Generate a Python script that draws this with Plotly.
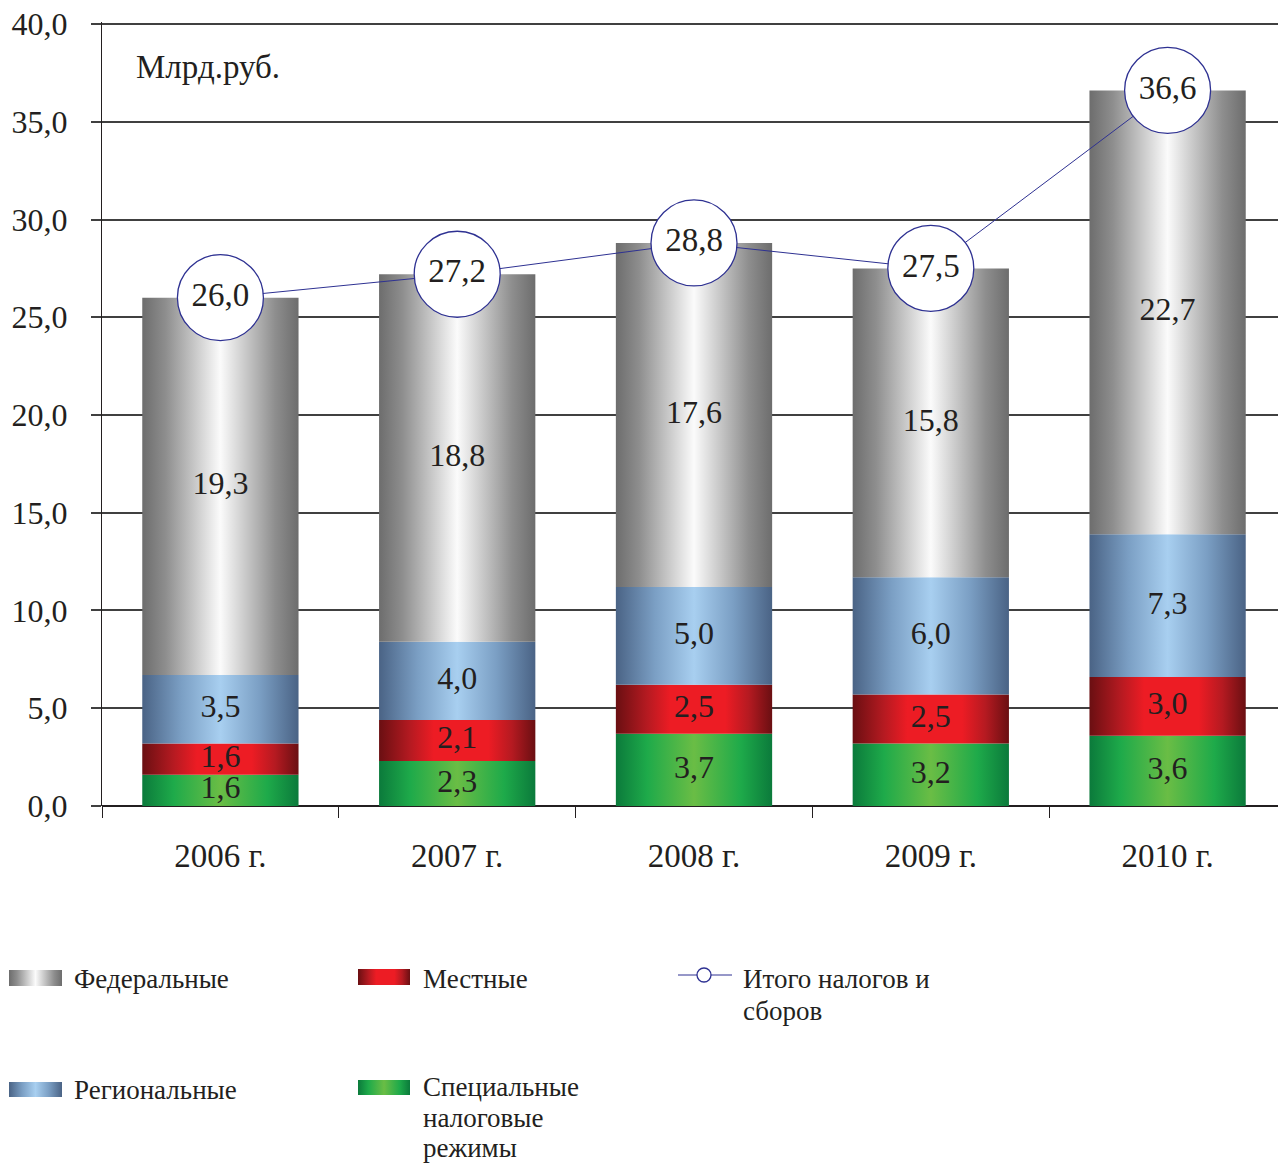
import plotly.graph_objects as go

# ---------------- data ----------------
years = ["2006 г.", "2007 г.", "2008 г.", "2009 г.", "2010 г."]
special = [1.6, 2.3, 3.7, 3.2, 3.6]      # Специальные налоговые режимы
local = [1.6, 2.1, 2.5, 2.5, 3.0]        # Местные
regional = [3.5, 4.0, 5.0, 6.0, 7.3]     # Региональные
federal = [19.3, 18.8, 17.6, 15.8, 22.7] # Федеральные
totals = [26.0, 27.2, 28.8, 27.5, 36.6]  # Итого налогов и сборов

series_names = ["Специальные налоговые режимы", "Местные", "Региональные", "Федеральные"]
series_values = [special, local, regional, federal]

# ---------------- styles ----------------
OFF = 8                    # page body margin of the browser
W, H = 1286 - OFF, 1165 - OFF
FONT = "Liberation Serif, Times New Roman, serif"
TXT = "#231f20"
NAVY = "#2e3192"
GRID = "#404040"
scales = {
    "Федеральные": [[0, "#6d6d6d"], [0.15, "#8e8e8e"], [0.5, "#fbfbfb"], [0.85, "#8e8e8e"], [1, "#6d6d6d"]],
    "Региональные": [[0, "#4a6385"], [0.25, "#7b9fc4"], [0.5, "#a8cff0"], [0.75, "#7b9fc4"], [1, "#4a6385"]],
    "Местные": [[0, "#6a0f12"], [0.2, "#b51a21"], [0.35, "#ed1c24"], [0.7, "#ed1c24"], [0.85, "#b51a21"], [1, "#6a0f12"]],
    "Специальные налоговые режимы": [[0, "#0b7a3b"], [0.2, "#1eaa4a"], [0.5, "#6abd45"], [0.8, "#1eaa4a"], [1, "#0b7a3b"]],
}
HALF = 0.33  # half bar width in category units
YMAX = 40.0
YPAD = 0.1   # tiny headroom so the 40,0 grid line / tick are drawn
PX_PER_UNIT = (806 - 24) / YMAX


def fmt(v):
    return f"{v:.1f}".replace(".", ",")


def px_x(p):
    return (p - OFF) / W


def px_y(p):
    return 1 - (p - OFF) / H


fig = go.Figure()

# ---------------- stacked gradient bars ----------------
label_x, label_y, label_t = [], [], []
for i in range(len(years)):
    base = 0.0
    for name, vals in zip(series_names, series_values):
        v = vals[i]
        x0, x1 = i - HALF, i + HALF
        fig.add_trace(go.Scatter(
            x=[x0, x1, x1, x0, x0], y=[base, base, base + v, base + v, base],
            mode="lines", fill="toself",
            fillgradient=dict(type="horizontal", colorscale=scales[name]),
            line=dict(width=0, color="rgba(0,0,0,0)"),
            hoverinfo="skip", showlegend=False, xaxis="x", yaxis="y"))
        label_x.append(i)
        label_y.append(base + v / 2)
        label_t.append(fmt(v))
        base += v

fig.add_trace(go.Scatter(
    x=label_x, y=label_y, text=label_t, mode="text", textposition="middle center",
    textfont=dict(family=FONT, size=32, color=TXT), hoverinfo="skip", showlegend=False))

# ---------------- totals line ----------------
fig.add_trace(go.Scatter(
    x=list(range(len(years))), y=totals, mode="lines+markers+text",
    text=[fmt(t) for t in totals], textposition="middle center",
    textfont=dict(family=FONT, size=33, color=TXT),
    line=dict(color=NAVY, width=1),
    marker=dict(symbol="circle", size=86, color="white", line=dict(color=NAVY, width=1.3)),
    cliponaxis=False, hoverinfo="skip", showlegend=False))

# ---------------- custom legend (pixel-space overlay axes) ----------------
legend_boxes = [
    ("Федеральные", 9, 62, 970, 986),
    ("Региональные", 9, 62, 1082, 1097),
    ("Местные", 358, 410, 969, 985),
    ("Специальные налоговые режимы", 358, 410, 1080, 1095),
]
for name, x0, x1, y0, y1 in legend_boxes:
    fig.add_trace(go.Scatter(
        x=[x0, x1, x1, x0, x0], y=[y0, y0, y1, y1, y0], mode="lines", fill="toself",
        fillgradient=dict(type="horizontal", colorscale=scales[name]),
        line=dict(width=0, color="rgba(0,0,0,0)"),
        hoverinfo="skip", showlegend=False, xaxis="x2", yaxis="y2"))
fig.add_trace(go.Scatter(
    x=[678, 732], y=[975, 975], mode="lines", line=dict(color=NAVY, width=1),
    hoverinfo="skip", showlegend=False, xaxis="x2", yaxis="y2"))
fig.add_trace(go.Scatter(
    x=[704], y=[975], mode="markers",
    marker=dict(symbol="circle", size=14, color="white", line=dict(color=NAVY, width=1.3)),
    hoverinfo="skip", showlegend=False, xaxis="x2", yaxis="y2"))

legend_texts = [
    ("Федеральные", 72, 979),
    ("Региональные", 72, 1090),
    ("Местные", 421, 979),
    ("Специальные", 421, 1087),
    ("налоговые", 421, 1118),
    ("режимы", 421, 1148),
    ("Итого налогов и", 741, 979),
    ("сборов", 741, 1011),
]
annotations = [
    dict(text=t, x=x, y=y, xref="x2", yref="y2", xanchor="left", yanchor="middle",
         showarrow=False, font=dict(family=FONT, size=27, color=TXT))
    for t, x, y in legend_texts
]
annotations.append(dict(text="Млрд.руб.", x=px_x(134), y=px_y(67), xref="paper", yref="paper",
                        xanchor="left", yanchor="middle", showarrow=False,
                        font=dict(family=FONT, size=33, color=TXT)))

# ---------------- layout ----------------
fig.update_layout(
    width=W, height=H,
    margin=dict(l=0, r=0, t=0, b=0, autoexpand=False),
    paper_bgcolor="white", plot_bgcolor="rgba(0,0,0,0)",
    separators=", ",
    showlegend=False,
    annotations=annotations,
    xaxis=dict(
        domain=[px_x(102), 1], range=[-0.5, 4.5], tickmode="array",
        tickvals=list(range(len(years))), ticktext=years, ticks="",
        showgrid=False, zeroline=False, showline=False,
        ticklabelstandoff=27, automargin=False, ticklabeloverflow="allow",
        tickfont=dict(family=FONT, size=33, color=TXT),
        minor=dict(tickmode="array", tickvals=[k - 0.5 for k in range(len(years) + 1)],
                   ticks="outside", ticklen=11, tickcolor=TXT, tickwidth=1, showgrid=False),
        anchor="y", fixedrange=True,
    ),
    yaxis=dict(
        domain=[px_y(806), px_y(24 - YPAD * PX_PER_UNIT)], range=[0, YMAX + YPAD], dtick=5, tick0=0,
        tickformat=".1f", ticks="outside", ticklen=10, tickcolor=GRID, tickwidth=1.5,
        showgrid=True, gridcolor=GRID, gridwidth=1.5,
        zeroline=True, zerolinecolor=TXT, zerolinewidth=2,
        showline=True, linecolor=TXT, linewidth=1.3,
        ticklabelstandoff=17, automargin=False, ticklabeloverflow="allow",
        tickfont=dict(family=FONT, size=32, color=TXT),
        anchor="x", fixedrange=True,
    ),
    xaxis2=dict(domain=[0, 1], range=[OFF, OFF + W], visible=False, anchor="y2", fixedrange=True),
    yaxis2=dict(domain=[0, 1], range=[OFF + H, OFF], visible=False, anchor="x2", fixedrange=True),
)

fig.write_html("out.html")
